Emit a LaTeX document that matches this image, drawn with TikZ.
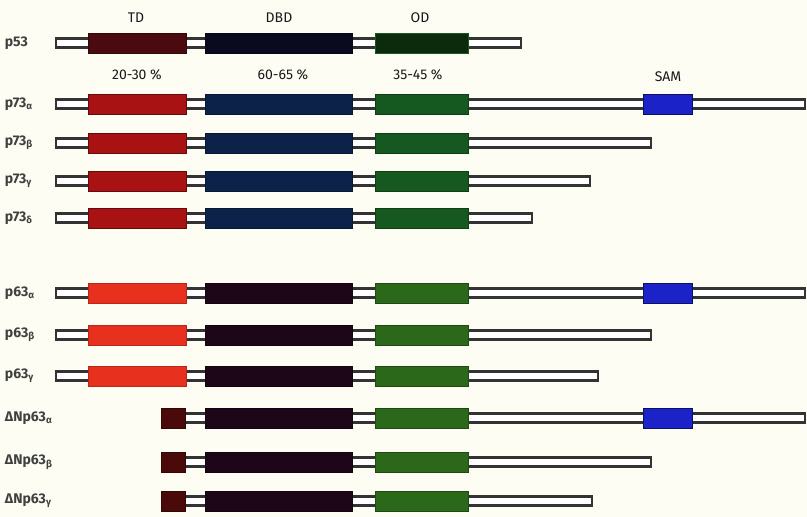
\documentclass[tikz,border=0pt]{standalone}
\usepackage{fontspec}
\setmainfont{Fira Sans}

\definecolor{bgcream}{RGB}{253,253,244}
\definecolor{tdA}{RGB}{74,10,16}
\definecolor{dbdA}{RGB}{10,10,30}
\definecolor{odA}{RGB}{12,42,12}
\definecolor{tdB}{RGB}{168,18,18}
\definecolor{dbdB}{RGB}{12,34,72}
\definecolor{odB}{RGB}{21,88,32}
\definecolor{tdC}{RGB}{232,48,30}
\definecolor{dbdC}{RGB}{28,6,24}
\definecolor{odC}{RGB}{44,104,26}
\definecolor{tdN}{RGB}{74,10,10}
\definecolor{samblue}{RGB}{26,34,200}

\begin{document}
\begin{tikzpicture}[x=1pt,y=-1pt,
    backbone/.style={draw=black!80, fill=white, line width=2.2pt},
    domainbox/.style={line width=1pt},
    rowlabel/.style={anchor=west, inner sep=0.75pt, font=\fontsize{14}{16}\selectfont\bfseries, text=black!75},
    headlabel/.style={inner sep=0.75pt, font=\fontsize{14}{16}\selectfont, text=black!90}]

    \useasboundingbox (0,0) rectangle (807,517);
    \fill [bgcream] (0,0) rectangle (807,517);

    % Text Node
    \node [headlabel] (hTD) at (136,18) {TD};
    \node [headlabel] (hDBD) at (279,18) {DBD};
    \node [headlabel] (hOD) at (420,18) {OD};
    \node [headlabel] (pTD) at (137,75) {20-30 \%};
    \node [headlabel] (pDBD) at (283,75) {60-65 \%};
    \node [headlabel] (pOD) at (418,75) {35-45 \%};
    \node [headlabel] (hSAM) at (668,77) {SAM};

    %Shape: p53
    \node [rowlabel] (lp53) at (4,43) {p53};
    \draw [backbone] (56,38.5) rectangle (521,47.5);
    \draw [domainbox, fill=tdA, draw=tdA!70!black] (88,33) rectangle (186,53);
    \draw [domainbox, fill=dbdA, draw=dbdA!70!black] (205,33) rectangle (352,53);
    \draw [domainbox, fill=odA, draw=odB] (375,33) rectangle (468,53);

    %Shape: p73 alpha
    \node [rowlabel] (lp73a) at (4,104) {p73\textsubscript{α}};
    \draw [backbone] (56,99.5) rectangle (805,108.5);
    \draw [domainbox, fill=tdB, draw=tdB!60!black] (88,94) rectangle (186,114);
    \draw [domainbox, fill=dbdB, draw=dbdB!70!black] (205,94) rectangle (352,114);
    \draw [domainbox, fill=odB, draw=odB!70!black] (375,94) rectangle (468,114);
    \draw [domainbox, fill=samblue, draw=samblue!50!black] (643,94) rectangle (692,114);

    %Shape: p73 beta
    \node [rowlabel] (lp73b) at (4,143) {p73\textsubscript{β}};
    \draw [backbone] (56,138.5) rectangle (651,147.5);
    \draw [domainbox, fill=tdB, draw=tdB!60!black] (88,133) rectangle (186,153);
    \draw [domainbox, fill=dbdB, draw=dbdB!70!black] (205,133) rectangle (352,153);
    \draw [domainbox, fill=odB, draw=odB!70!black] (375,133) rectangle (468,153);

    %Shape: p73 gamma
    \node [rowlabel] (lp73g) at (4,181) {p73\textsubscript{γ}};
    \draw [backbone] (56,176.5) rectangle (590,185.5);
    \draw [domainbox, fill=tdB, draw=tdB!60!black] (88,171) rectangle (186,191);
    \draw [domainbox, fill=dbdB, draw=dbdB!70!black] (205,171) rectangle (352,191);
    \draw [domainbox, fill=odB, draw=odB!70!black] (375,171) rectangle (468,191);

    %Shape: p73 delta
    \node [rowlabel] (lp73d) at (4,218) {p73\textsubscript{δ}};
    \draw [backbone] (56,213.5) rectangle (532,222.5);
    \draw [domainbox, fill=tdB, draw=tdB!60!black] (88,208) rectangle (186,228);
    \draw [domainbox, fill=dbdB, draw=dbdB!70!black] (205,208) rectangle (352,228);
    \draw [domainbox, fill=odB, draw=odB!70!black] (375,208) rectangle (468,228);

    %Shape: p63 alpha
    \node [rowlabel] (lp63a) at (4,293) {p63\textsubscript{α}};
    \draw [backbone] (56,288.5) rectangle (805,297.5);
    \draw [domainbox, fill=tdC, draw=tdC!80!black] (88,283) rectangle (186,303);
    \draw [domainbox, fill=dbdC, draw=dbdC!70!black] (205,283) rectangle (352,303);
    \draw [domainbox, fill=odC, draw=odC!70!black] (375,283) rectangle (468,303);
    \draw [domainbox, fill=samblue, draw=samblue!50!black] (643,283) rectangle (692,303);

    %Shape: p63 beta
    \node [rowlabel] (lp63b) at (4,335) {p63\textsubscript{β}};
    \draw [backbone] (56,330.5) rectangle (651,339.5);
    \draw [domainbox, fill=tdC, draw=tdC!80!black] (88,325) rectangle (186,345);
    \draw [domainbox, fill=dbdC, draw=dbdC!70!black] (205,325) rectangle (352,345);
    \draw [domainbox, fill=odC, draw=odC!70!black] (375,325) rectangle (468,345);

    %Shape: p63 gamma
    \node [rowlabel] (lp63g) at (4,376) {p63\textsubscript{γ}};
    \draw [backbone] (56,371.5) rectangle (598,380.5);
    \draw [domainbox, fill=tdC, draw=tdC!80!black] (88,366) rectangle (186,386);
    \draw [domainbox, fill=dbdC, draw=dbdC!70!black] (205,366) rectangle (352,386);
    \draw [domainbox, fill=odC, draw=odC!70!black] (375,366) rectangle (468,386);

    %Shape: DeltaNp63 alpha
    \node [rowlabel] (lNp63a) at (4,418) {ΔNp63\textsubscript{α}};
    \draw [backbone] (185,413.5) rectangle (805,422.5);
    \draw [domainbox, fill=tdN, draw=tdN!70!black] (161,408) rectangle (185,428);
    \draw [domainbox, fill=dbdC, draw=dbdC!70!black] (205,408) rectangle (352,428);
    \draw [domainbox, fill=odC, draw=odC!70!black] (375,408) rectangle (468,428);
    \draw [domainbox, fill=samblue, draw=samblue!50!black] (643,408) rectangle (692,428);

    %Shape: DeltaNp63 beta
    \node [rowlabel] (lNp63b) at (4,462) {ΔNp63\textsubscript{β}};
    \draw [backbone] (185,457.5) rectangle (651,466.5);
    \draw [domainbox, fill=tdN, draw=tdN!70!black] (161,452) rectangle (185,472);
    \draw [domainbox, fill=dbdC, draw=dbdC!70!black] (205,452) rectangle (352,472);
    \draw [domainbox, fill=odC, draw=odC!70!black] (375,452) rectangle (468,472);

    %Shape: DeltaNp63 gamma
    \node [rowlabel] (lNp63g) at (4,501) {ΔNp63\textsubscript{γ}};
    \draw [backbone] (185,496.5) rectangle (592,505.5);
    \draw [domainbox, fill=tdN, draw=tdN!70!black] (161,491) rectangle (185,511);
    \draw [domainbox, fill=dbdC, draw=dbdC!70!black] (205,491) rectangle (352,511);
    \draw [domainbox, fill=odC, draw=odC!70!black] (375,491) rectangle (468,511);

\end{tikzpicture}
\end{document}
